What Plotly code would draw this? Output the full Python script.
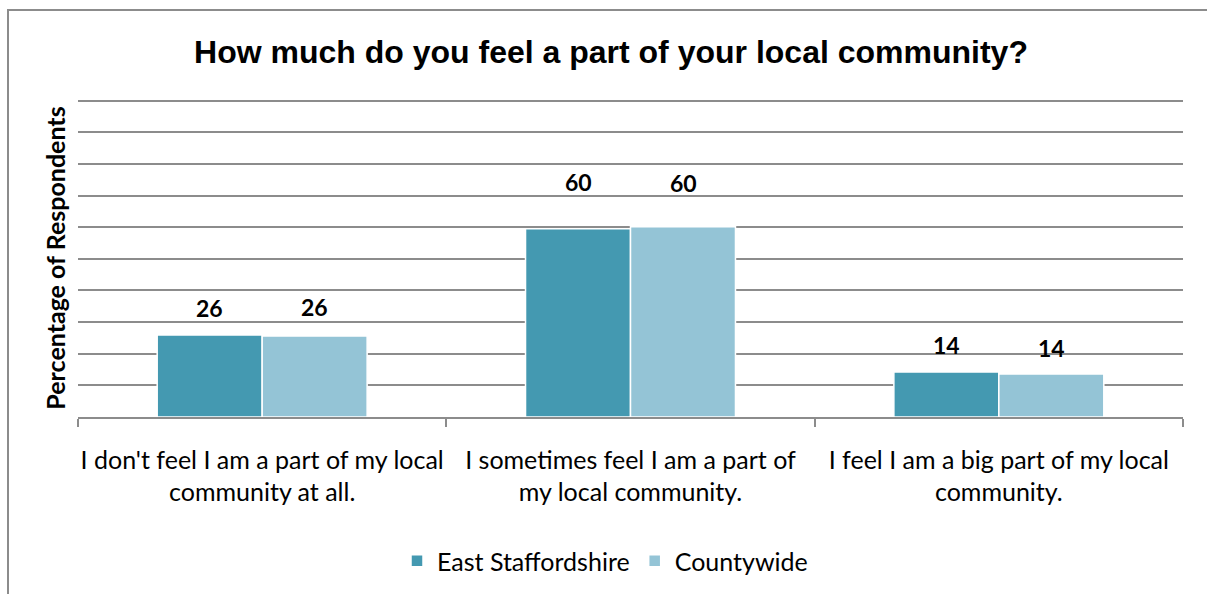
import plotly.graph_objects as go

categories = [
    "I don't feel I am a part of my local<br>community at all.",
    "I sometimes feel I am a part of<br>my local community.",
    "I feel I am a big part of my local<br>community.",
]
east_staffs = [25.9, 59.5, 14.2]
countywide = [25.6, 60.1, 13.6]
series_names = ["East Staffordshire", "Countywide"]
colors = ["#4499B1", "#94C4D6"]

# pixel gap between bar top and data label centre (per category)
label_lift = [[27, 47, 27], [29, 44, 26]]

W, H = 1207, 594
L, R, T, B = 78, 24, 99, 177
pw, ph = W - L - R, H - T - B
bar_px = 105  # offset between the two bar centres

fig = go.Figure()
for name, vals, col in zip(series_names, [east_staffs, countywide], colors):
    fig.add_trace(go.Bar(
        x=categories, y=vals, name=name,
        marker=dict(color=col, line=dict(color="white", width=1.5)),
    ))

annotations = []
for si, vals in enumerate([east_staffs, countywide]):
    for ci, (cat, v) in enumerate(zip(categories, vals)):
        annotations.append(dict(
            x=cat, y=v, xref="x", yref="y", text=f"<b>{round(v)}</b>",
            showarrow=False, xanchor="center", yanchor="middle",
            xshift=(-0.5 if si == 0 else 0.5) * bar_px,
            yshift=label_lift[si][ci],
            font=dict(family="Lato", size=23, color="black"),
        ))

fig.update_layout(
    width=W, height=H,
    margin=dict(l=L, r=R, t=T, b=B, autoexpand=False),
    paper_bgcolor="white", plot_bgcolor="white",
    barmode="group", bargap=0.43, bargroupgap=0.0,
    title=dict(text="<b>How much do you feel a part of your local community?</b>",
               x=611 / W, xanchor="center", y=1 - 52 / H, yanchor="middle",
               font=dict(family="Liberation Sans", size=32, color="black")),
    yaxis=dict(range=[0, 100.5], dtick=10, showticklabels=False,
               showgrid=True, gridcolor="#8c8c8c", gridwidth=1.5,
               zeroline=False, showline=False, automargin=False,
               title=dict(text="<b>Percentage of Respondents</b>",
                          font=dict(family="Lato", size=25, color="black"),
                          standoff=4)),
    xaxis=dict(showline=True, linecolor="#8c8c8c", linewidth=1.5,
               ticks="outside", tickson="boundaries", ticklen=8,
               tickcolor="#8c8c8c", tickwidth=1.5, ticklabelstandoff=20,
               tickangle=0, automargin=False,
               tickfont=dict(family="Lato", size=25, color="black")),
    legend=dict(orientation="h", x=(605 - L) / pw, xanchor="center",
                y=-(561 - 417) / (417 - T), yanchor="middle",
                font=dict(family="Lato", size=25, color="black"),
                itemwidth=30, traceorder="normal"),
    annotations=annotations,
    shapes=[dict(type="rect", xref="paper", yref="paper",
                 x0=(8 - L) / pw, x1=(1230 - L) / pw,
                 y0=-(620 - 417) / (417 - T), y1=(417 - 10) / (417 - T),
                 line=dict(color="#8c8c8c", width=2), layer="below")],
)

fig.write_html("out.html")
